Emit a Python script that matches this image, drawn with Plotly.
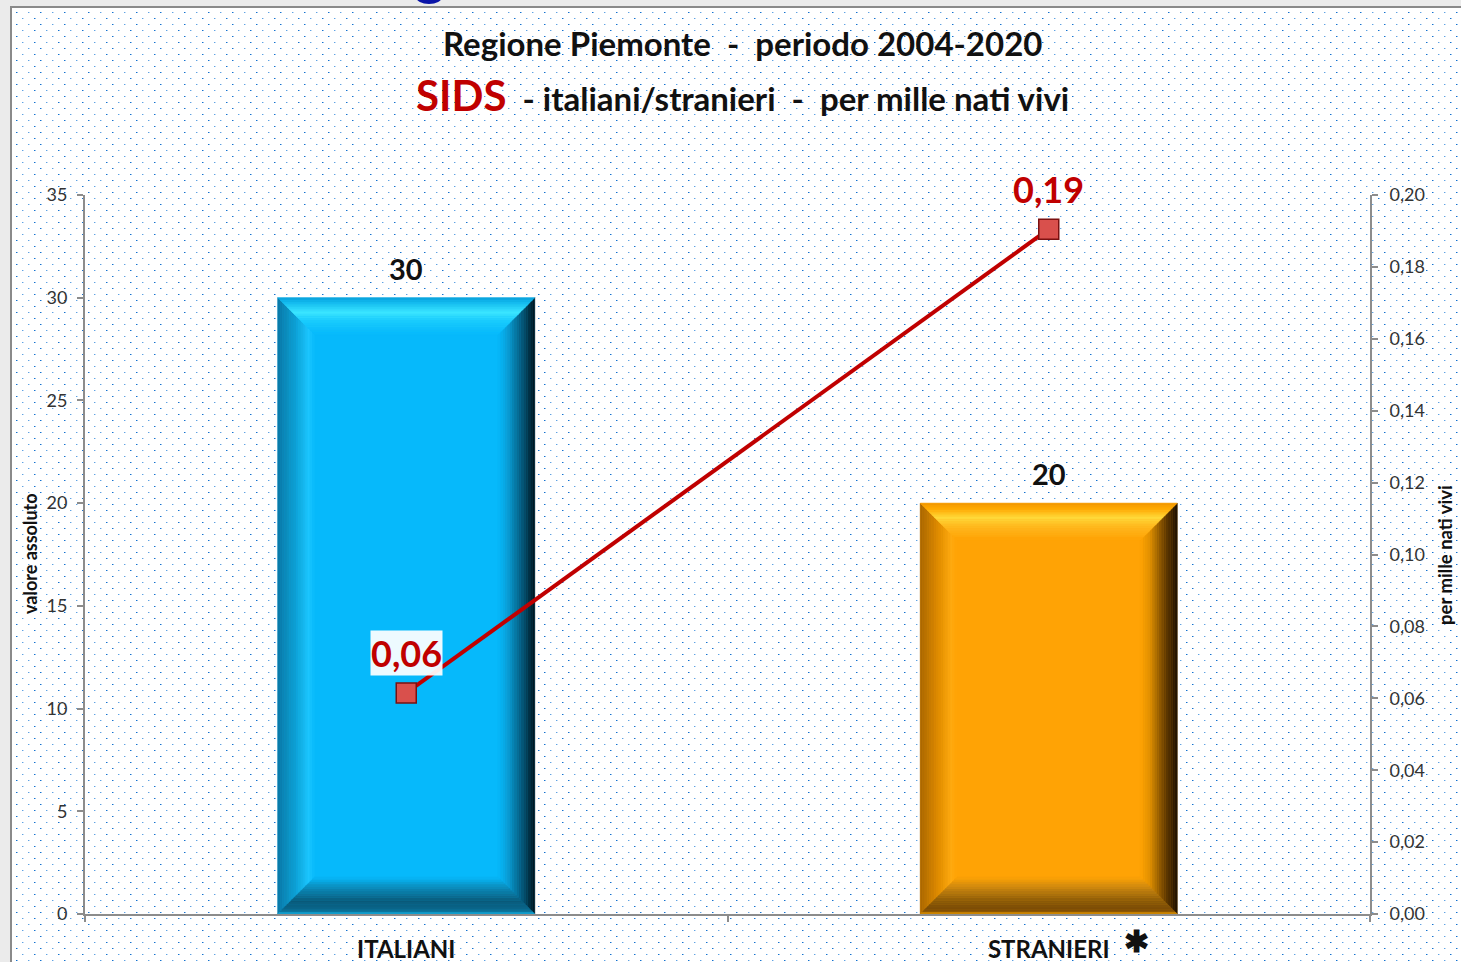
import base64, struct, zlib
import plotly.graph_objects as go

# ---------------- data ----------------
categories = ["ITALIANI", "STRANIERI"]
valori_assoluti = [30, 20]
per_mille = [0.0615, 0.1905]
per_mille_labels = ["0,06", "0,19"]
left_ticks = [0, 5, 10, 15, 20, 25, 30, 35]
right_ticks = [0, 0.02, 0.04, 0.06, 0.08, 0.10, 0.12, 0.14, 0.16, 0.18, 0.20]

# ---------------- geometry / style ----------------
W, H = 1461, 962
ML, MR, MT, MB = 85, 91, 195, 48
PW, PH = W - ML - MR, H - MT - MB
Y_MAX, Y2_MAX = 35, 0.20
X_RANGE = [-0.5, 1.5]
BW = 0.4
DEPTH = 37
DX = DEPTH * (X_RANGE[1] - X_RANGE[0]) / PW
DY = DEPTH * Y_MAX / PH
FONT = "Lato"

bar_main = ["#06b9fb", "#ffa305"]
bevels = [
    dict(top=[(0, "#0aa0d8"), (0.12, "#10b6ee"), (0.4, "#3ce6ff"), (0.62, "#1ccdfd"), (1, "#06b9fb")],
         left=[(0, "#0a78a6"), (0.5, "#0ea2d6"), (0.85, "#1cc6ff"), (1, "#06b9fb")],
         right=[(0, "#00121a"), (0.35, "#05587a"), (0.75, "#0aa0d8"), (1, "#06b9fb")],
         bottom=[(0, "#14b4ea"), (0.1, "#0a6a8e"), (0.35, "#0a5a7a"), (0.75, "#0c90c0"), (1, "#06b9fb")]),
    dict(top=[(0, "#f29800"), (0.15, "#ffa800"), (0.4, "#ffd93a"), (0.62, "#ffba20"), (1, "#ffa305")],
         left=[(0, "#a86600"), (0.5, "#e08c00"), (0.85, "#ffab10"), (1, "#ffa305")],
         right=[(0, "#1e1000"), (0.35, "#6a4000"), (0.75, "#e09000"), (1, "#ffa305")],
         bottom=[(0, "#f0a000"), (0.1, "#7a4a05"), (0.35, "#8a5a08"), (0.75, "#d08a10"), (1, "#ffa305")]),
]


def hex2rgb(h):
    h = h.lstrip("#")
    return tuple(int(h[i:i + 2], 16) for i in (0, 2, 4))


def color_at(stops, t):
    for (ta, ca), (tb, cb) in zip(stops[:-1], stops[1:]):
        if ta <= t <= tb:
            f = (t - ta) / (tb - ta) if tb > ta else 0
            a, b = hex2rgb(ca), hex2rgb(cb)
            return "rgb(%d,%d,%d)" % tuple(round(a[k] + (b[k] - a[k]) * f) for k in range(3))
    return stops[-1][1]


# ---------------- dotted background image ----------------
def make_bg():
    x_start, y_start = 10, 6
    iw, ih = W - x_start, H - y_start
    border = bytes((138, 138, 138))
    white = bytes((255, 255, 255))

    def row(kind):
        r = bytearray(white * iw)
        if kind is not None:
            for px in range(x_start, W):
                k = px - 16 - (6 if kind else 0)
                if k % 12 == 0:
                    idx = (px - x_start) * 3
                    if (k // 12 + kind) % 2 == 0:
                        core, side = (22, 112, 205), (140, 190, 236)
                    else:
                        core, side = (95, 162, 226), (190, 218, 245)
                    r[idx:idx + 3] = bytes(core)
                    if idx + 6 <= len(r):
                        r[idx + 3:idx + 6] = bytes(side)
        r[0:6] = border * 2
        return bytes(r)

    rows = {None: row(None), 0: row(0), 1: row(1)}
    raw = bytearray()
    for py in range(y_start, H):
        if py < y_start + 2:
            raw += b"\x00" + border * iw
            continue
        d = py - 12
        kind = ((d // 6) % 2) if d % 6 == 0 else None
        raw += b"\x00" + rows[kind]

    def chunk(t, data):
        c = struct.pack(">I", len(data)) + t + data
        return c + struct.pack(">I", zlib.crc32(t + data) & 0xFFFFFFFF)

    png = b"\x89PNG\r\n\x1a\n" + chunk(b"IHDR", struct.pack(">IIBBBBB", iw, ih, 8, 2, 0, 0, 0))
    png += chunk(b"IDAT", zlib.compress(bytes(raw), 9)) + chunk(b"IEND", b"")
    return "data:image/png;base64," + base64.b64encode(png).decode(), x_start, y_start, iw, ih


bg_src, bx, by, bw_, bh_ = make_bg()

fig = go.Figure()

# bars
fig.add_trace(go.Bar(
    x=list(range(len(categories))), y=valori_assoluti, width=BW,
    marker=dict(color=bar_main, line=dict(width=0)),
    hoverinfo="skip", showlegend=False))

# bevel strips computed from the bar values
N = 16
for i, v in enumerate(valori_assoluti):
    x0, x1 = i - BW / 2, i + BW / 2
    y0, y1 = 0, v
    bv = bevels[i]
    for band in ("left", "right", "top", "bottom"):
        for s in range(N):
            ta, tb = s / N, (s + 1) / N
            if band == "top":
                pts = [(x0 + DX * ta, y1 - DY * ta), (x1 - DX * ta, y1 - DY * ta),
                       (x1 - DX * tb, y1 - DY * tb), (x0 + DX * tb, y1 - DY * tb)]
            elif band == "bottom":
                pts = [(x0 + DX * ta, y0 + DY * ta), (x1 - DX * ta, y0 + DY * ta),
                       (x1 - DX * tb, y0 + DY * tb), (x0 + DX * tb, y0 + DY * tb)]
            elif band == "left":
                pts = [(x0 + DX * ta, y1 - DY * ta), (x0 + DX * tb, y1 - DY * tb),
                       (x0 + DX * tb, y0 + DY * tb), (x0 + DX * ta, y0 + DY * ta)]
            else:
                pts = [(x1 - DX * ta, y1 - DY * ta), (x1 - DX * tb, y1 - DY * tb),
                       (x1 - DX * tb, y0 + DY * tb), (x1 - DX * ta, y0 + DY * ta)]
            c = color_at(bv[band], (ta + tb) / 2)
            fig.add_trace(go.Scatter(
                x=[p[0] for p in pts] + [pts[0][0]], y=[p[1] for p in pts] + [pts[0][1]],
                mode="lines", fill="toself", fillcolor=c, line=dict(color=c, width=0.6),
                hoverinfo="skip", showlegend=False, yaxis="y"))

# line on secondary axis
fig.add_trace(go.Scatter(
    x=list(range(len(categories))), y=per_mille, yaxis="y2", mode="lines+markers",
    line=dict(color="#c00000", width=4),
    marker=dict(symbol="square", size=20, color="#d9504c", line=dict(color="#7a1010", width=1.5)),
    hoverinfo="skip", showlegend=False))

annotations = []
# bar value labels
for i, v in enumerate(valori_assoluti):
    annotations.append(dict(x=i, y=v, xref="x", yref="y", text="<b>%d</b>" % v, showarrow=False,
                            yanchor="bottom", yshift=10, font=dict(family=FONT, size=29, color="#111111")))
# line value labels
for i, (v, lab) in enumerate(zip(per_mille, per_mille_labels)):
    annotations.append(dict(x=i, y=v, xref="x", yref="y2", text="<b>%s</b>" % lab, showarrow=False,
                            yanchor="bottom", yshift=17, font=dict(family=FONT, size=36, color="#c00000"),
                            bgcolor="rgba(255,255,255,0.93)" if i == 0 else None, borderpad=0))
# titles
annotations.append(dict(x=(742 - ML) / PW, y=(MT + PH - 43) / PH, xref="paper", yref="paper",
                        text="<b>Regione Piemonte  -  periodo 2004-2020</b>", showarrow=False,
                        xanchor="center", yanchor="middle", font=dict(family=FONT, size=33, color="#111111")))
annotations.append(dict(x=(742 - ML) / PW, y=(MT + PH - 95) / PH, xref="paper", yref="paper",
                        text="<b><span style='color:#c00000;font-size:42px'>SIDS</span>"
                             "  - italiani/stranieri  -  per mille nati vivi</b>",
                        showarrow=False, xanchor="center", yanchor="middle",
                        font=dict(family=FONT, size=33, color="#111111")))
# axis titles
annotations.append(dict(x=(30 - ML) / PW, y=(MT + PH - 554) / PH, xref="paper", yref="paper",
                        text="<b>valore assoluto</b>", textangle=-90, showarrow=False,
                        xanchor="center", yanchor="middle",
                        font=dict(family=FONT, size=18, color="#111111")))
annotations.append(dict(x=(1445 - ML) / PW, y=(MT + PH - 555) / PH, xref="paper", yref="paper",
                        text="<b>per mille nati vivi</b>", textangle=-90, showarrow=False,
                        xanchor="center", yanchor="middle",
                        font=dict(family=FONT, size=18.5, color="#111111")))
# asterisk after the STRANIERI label
annotations.append(dict(x=1, y=(MT + PH - 940) / PH, xref="x", yref="paper", text="<b>✱</b>",
                        showarrow=False, xanchor="center", yanchor="middle", xshift=88,
                        font=dict(family=FONT, size=30, color="#111111")))

fig.update_layout(
    width=W, height=H,
    margin=dict(l=ML, r=MR, t=MT, b=MB, pad=0, autoexpand=False),
    paper_bgcolor="#ebebeb", plot_bgcolor="#ffffff",
    separators=",.",
    showlegend=False,
    annotations=annotations,
    images=[dict(source=bg_src, xref="paper", yref="paper",
                 x=(bx - ML) / PW, y=(MT + PH - by) / PH,
                 sizex=bw_ / PW, sizey=bh_ / PH, sizing="stretch",
                 xanchor="left", yanchor="top", layer="below")],
    shapes=[dict(type="circle", xref="paper", yref="paper",
                 x0=(416 - ML) / PW, x1=(442 - ML) / PW,
                 y0=(MT + PH - 4) / PH, y1=(MT + PH + 10) / PH,
                 fillcolor="#0a14a8", line=dict(width=0), layer="above")],
    xaxis=dict(range=X_RANGE, tickmode="array", tickvals=list(range(len(categories))),
               ticktext=["<b>%s</b>" % c for c in categories],
               ticks="", showgrid=False, zeroline=False, automargin=False,
               showline=True, linecolor="#8c8c8c", linewidth=2,
               tickfont=dict(family=FONT, size=24, color="#111111"),
               ticklabelstandoff=13,
               minor=dict(tickvals=[-0.5, 0.5, 1.5], ticks="outside", ticklen=6,
                          tickcolor="#8c8c8c", tickwidth=1.5, showgrid=False)),
    yaxis=dict(range=[0, Y_MAX], tickvals=left_ticks, showgrid=False, zeroline=False, automargin=False,
               showline=True, linecolor="#8c8c8c", linewidth=2,
               ticks="outside", ticklen=6, tickcolor="#8c8c8c", tickwidth=1.5,
               tickfont=dict(family=FONT, size=18, color="#333333"), ticklabelstandoff=6),
    yaxis2=dict(range=[0, Y2_MAX], tickvals=right_ticks, tickformat=".2f",
                overlaying="y", side="right", showgrid=False, zeroline=False, automargin=False,
                showline=True, linecolor="#8c8c8c", linewidth=2,
                ticks="outside", ticklen=6, tickcolor="#8c8c8c", tickwidth=1.5,
                tickfont=dict(family=FONT, size=18, color="#333333"), ticklabelstandoff=8),
)

fig.write_html("out.html", config={"displayModeBar": False},
               post_script="document.body.style.margin='0';document.body.style.overflow='hidden';")
